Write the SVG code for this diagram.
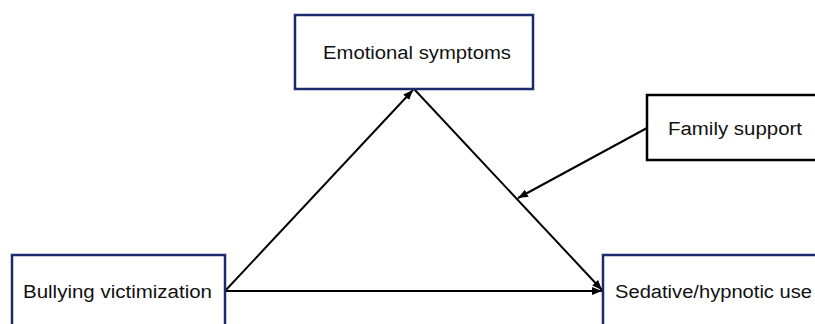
<svg xmlns="http://www.w3.org/2000/svg" width="815" height="324" viewBox="0 0 815 324">
<style>
.box{fill:#fff;stroke-width:2.5}
.navy{stroke:#1b2a6b}
.blk{stroke:#000}
.lbl{font-family:"Liberation Sans",Arial,sans-serif;font-size:18px;fill:#111}
.con{stroke:#000;stroke-width:2;fill:none;marker-end:url(#ah)}
</style>
<defs>
<marker id="ah" viewBox="0 0 10 10" refX="10" refY="5" markerWidth="5" markerHeight="5" orient="auto" markerUnits="strokeWidth">
<path d="M0,1 L10,5 L0,9 z" fill="#000"/>
</marker>
</defs>
<rect width="815" height="324" fill="#fff"/>
<g id="connectors">
<line class="con" x1="225" y1="291" x2="413" y2="90"/>
<line class="con" x1="414" y1="89" x2="602" y2="290"/>
<line class="con" x1="225" y1="291" x2="602" y2="291"/>
<line class="con" x1="647" y1="128" x2="518" y2="198"/>
</g>
<g id="emotional">
<rect class="box navy" x="295" y="15" width="238" height="74"/>
<text class="lbl" x="323" y="59" textLength="188" lengthAdjust="spacingAndGlyphs">Emotional symptoms</text>
</g>
<g id="family">
<rect class="box blk" x="647" y="95" width="175" height="65"/>
<text class="lbl" x="668" y="135" textLength="134" lengthAdjust="spacingAndGlyphs">Family support</text>
</g>
<g id="bullying">
<rect class="box navy" x="12" y="255" width="213" height="80"/>
<text class="lbl" x="23" y="298" textLength="189" lengthAdjust="spacingAndGlyphs">Bullying victimization</text>
</g>
<g id="sedative">
<rect class="box navy" x="603" y="255" width="230" height="80"/>
<text class="lbl" x="615" y="298" textLength="197" lengthAdjust="spacingAndGlyphs">Sedative/hypnotic use</text>
</g>
</svg>
